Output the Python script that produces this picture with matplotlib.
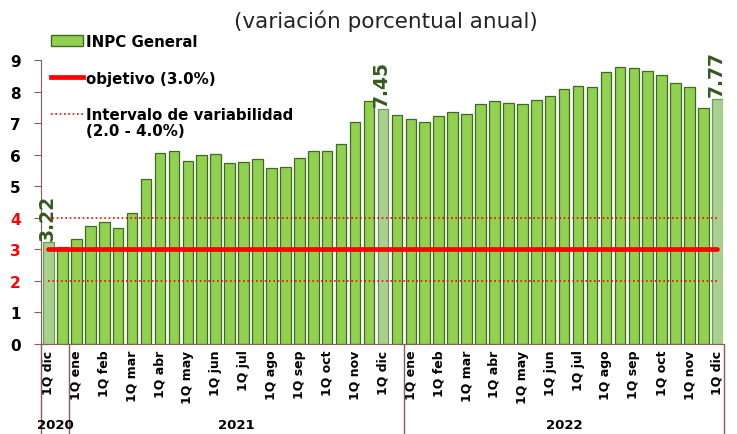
import numpy as np
import matplotlib
matplotlib.use('Agg')
import matplotlib.pyplot as plt
from matplotlib.patches import Patch
from matplotlib.lines import Line2D

plt.rcParams['font.family'] = ['DejaVu Sans']

# INPC, variación anual por quincena (1Q dic 2020 - 1Q dic 2022)
inpc = [3.22, 3.08, 3.34, 3.73, 3.86, 3.68, 4.14, 5.24, 6.06, 6.13,
        5.80, 5.99, 6.02, 5.74, 5.77, 5.86, 5.58, 5.60, 5.88, 6.13,
        6.13, 6.35, 7.04, 7.71, 7.45, 7.26, 7.13, 7.02, 7.22, 7.35,
        7.29, 7.61, 7.71, 7.65, 7.59, 7.74, 7.87, 8.09, 8.16, 8.14,
        8.62, 8.77, 8.74, 8.65, 8.52, 8.27, 8.14, 7.47, 7.77]
objetivo = 3.0
intervalo = [2.0, 4.0]
meses = ['ene', 'feb', 'mar', 'abr', 'may', 'jun',
         'jul', 'ago', 'sep', 'oct', 'nov', 'dic']
tick_labels = ['1Q dic'] + ['1Q ' + m for m in meses] + ['1Q ' + m for m in meses]
years = ['2020', '2021', '2022']
year_bounds = [-0.5, 1.5, 25.5, 48.5]   # quincenas que abarca cada año
destacados = [0, 24, 48]   # barras con etiqueta

verde = '#92d050'
verde_claro = '#a9d18e'
borde = '#3d6b22'
texto_verde = '#375a20'
marron = '#8c5a5a'

x = np.arange(len(inpc))
colors = [verde_claro if i in destacados else verde for i in x]
edges = ['#6f9a55' if i in destacados else borde for i in x]

fig = plt.figure(figsize=(7.37, 4.35), dpi=100)
ax = fig.add_axes([0.0563, 0.2069, 0.9247, 0.6529])

ax.bar(x, inpc, width=0.76, color=colors, edgecolor=edges, linewidth=0.9, zorder=2)
ax.plot(x, [objetivo] * len(x), color='red', lw=3.4, solid_capstyle='round', zorder=4)
for v in intervalo:
    ax.plot(x, [v] * len(x), color='red', lw=1.2, ls=(0, (1, 1.6)), zorder=4)

for i in destacados:
    ax.text(i - 0.1, inpc[i] + 0.08, '%.2f' % inpc[i], rotation=90, ha='center', va='bottom',
            fontsize=13.5, fontweight='bold', color=texto_verde)

ax.set_xlim(-0.5, 48.4)
ax.set_ylim(0, 9)
ax.set_yticks(range(0, 10))
for t in ax.set_yticklabels([str(i) for i in range(0, 10)], fontsize=11, fontweight='bold'):
    if t.get_text() in ('2', '3', '4'):
        t.set_color('red')
ax.tick_params(axis='y', length=5, color=marron, pad=10)

ax.set_xticks(x[::2])
ax.set_xticklabels(tick_labels, rotation=90, fontsize=9, fontweight='bold', va='top')
ax.tick_params(axis='x', length=0, pad=4)

for s in ['top', 'right']:
    ax.spines[s].set_visible(False)
ax.spines['left'].set_color(marron)
ax.spines['bottom'].set_color(marron)

# separadores de años y etiquetas
trans = ax.get_xaxis_transform()
for b in year_bounds:
    ax.plot([b, b], [0, -0.32], color=marron, lw=1, transform=trans, clip_on=False)
for k, y in enumerate(years):
    xc = (year_bounds[k] + year_bounds[k + 1]) / 2
    ax.text(xc, -0.285, y, transform=trans, ha='center', va='center',
            fontsize=9.5, fontweight='bold')

fig.text(0.523, 0.952, '(variación porcentual anual)', ha='center', va='center',
         fontsize=15.5, color='#222222')

handles = [Patch(facecolor=verde, edgecolor=borde),
           Line2D([0], [0], color='red', lw=3.4),
           Line2D([0], [0], color='red', lw=1.2, ls=(0, (1, 1.6)))]
labels = ['INPC General', 'objetivo (3.0%)', 'Intervalo de variabilidad']
leg = fig.legend(handles, labels, loc='upper left', bbox_to_anchor=(0.051, 0.951),
                 frameon=False, prop={'weight': 'bold', 'size': 10.8},
                 handlelength=2.1, handletextpad=0.2, labelspacing=1.45)
fig.text(86 / 737, 1 - 131 / 435, '(2.0 - 4.0%)', ha='left', va='center',
         fontsize=10.8, fontweight='bold')

fig.savefig('out.png', dpi=100)
